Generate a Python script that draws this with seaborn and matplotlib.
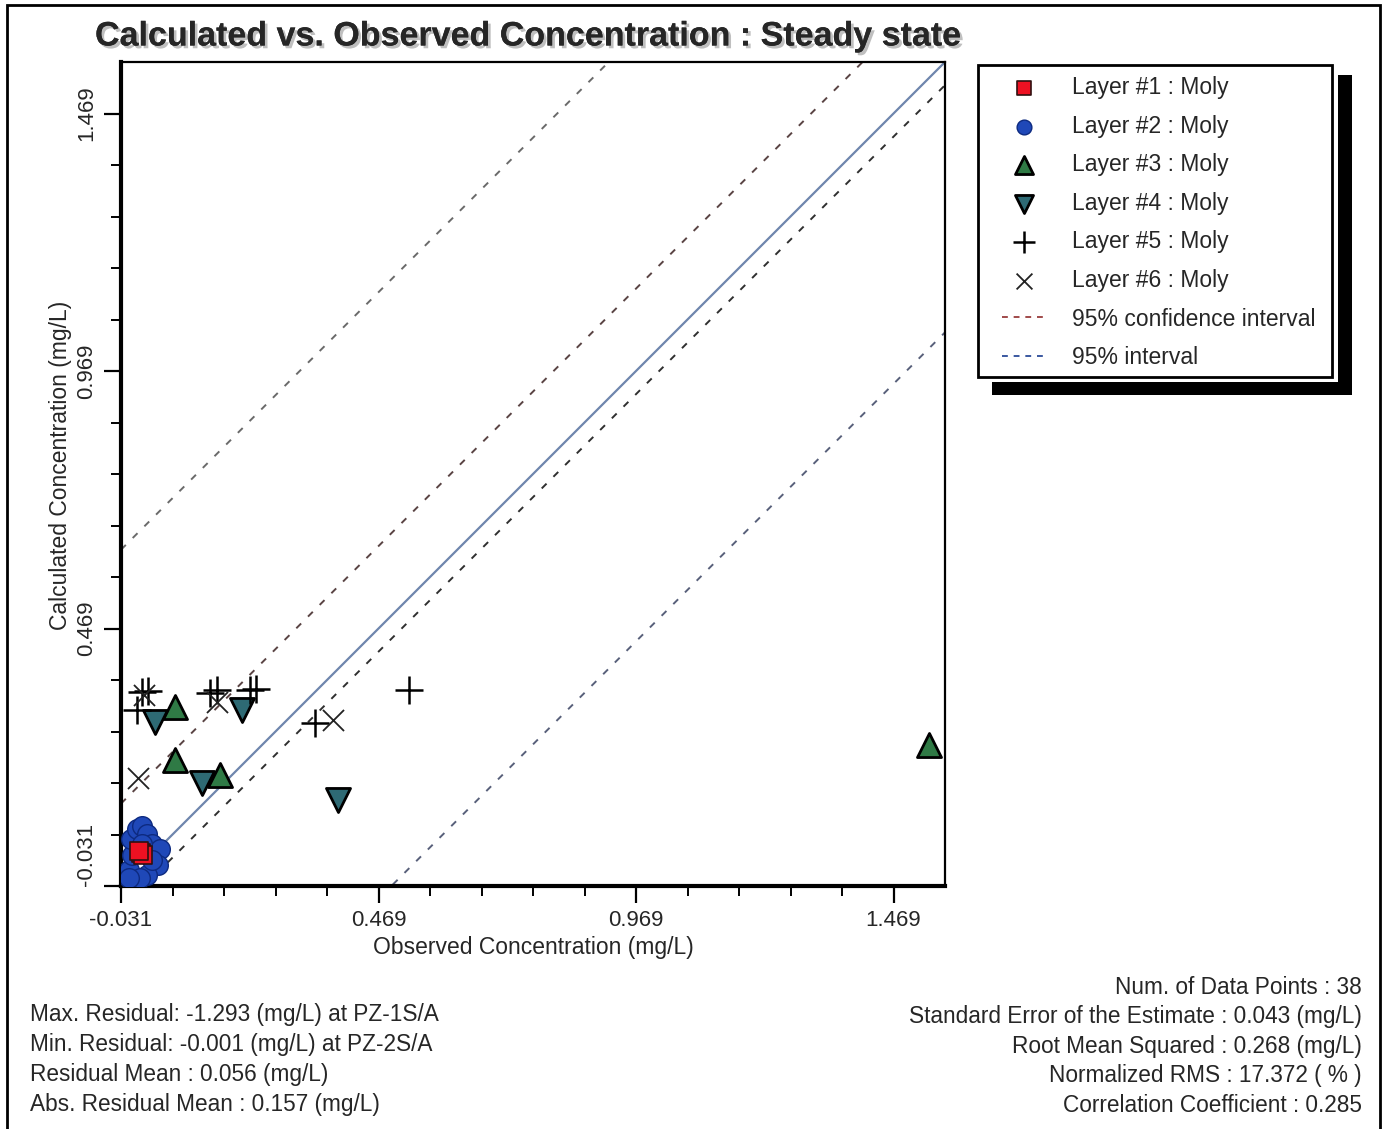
"""
Calculated vs. Observed Concentration scatter (steady state)
Recreated with seaborn / matplotlib
"""

import matplotlib
matplotlib.use("Agg")
import matplotlib.pyplot as plt
import matplotlib.patheffects as pe
from matplotlib.lines import Line2D
from matplotlib.patches import Rectangle
import seaborn as sns
import numpy as np

# ---- data ----
layer1_obs = [0.008, 0.012, 0.004]
layer1_calc = [0.033, 0.030, 0.036]

layer2_obs = [-0.015, -0.010, -0.012, 0.000, 0.010, 0.020, 0.030,
              0.045, 0.040, 0.020, 0.005, -0.015, 0.030, 0.010]
layer2_calc = [0.000, 0.030, 0.060, 0.080, 0.085, 0.070, 0.050,
               0.040, 0.010, -0.010, -0.015, -0.015, 0.020, 0.050]

layer3_obs = [0.074, 0.074, 0.161, 1.537]
layer3_calc = [0.316, 0.213, 0.184, 0.242]

layer4_obs = [0.035, 0.203, 0.126, 0.390]
layer4_calc = [0.287, 0.310, 0.169, 0.136]

layer5_obs = [0.010, 0.022, 0.000, 0.142, 0.155, 0.219, 0.232, 0.345, 0.529]
layer5_calc = [0.345, 0.347, 0.310, 0.343, 0.349, 0.349, 0.352, 0.285, 0.349]

layer6_obs = [0.002, 0.155, 0.380, 0.014]
layer6_calc = [0.178, 0.326, 0.291, 0.340]

# offsets of the reference lines from y = x
ci_offsets = [0.160, -0.045]     # 95% confidence interval
pi_offsets = [0.653, -0.525]     # 95% interval

axis_min, axis_max = -0.031, 1.569
major_ticks = [-0.031, 0.469, 0.969, 1.469]
tick_labels = ["-0.031", "0.469", "0.969", "1.469"]

left_stats = [
    "Max. Residual: -1.293 (mg/L) at PZ-1S/A",
    "Min. Residual: -0.001 (mg/L) at PZ-2S/A",
    "Residual Mean : 0.056 (mg/L)",
    "Abs. Residual Mean : 0.157 (mg/L)",
]
right_stats = [
    "Num. of Data Points : 38",
    "Standard Error of the Estimate : 0.043 (mg/L)",
    "Root Mean Squared : 0.268 (mg/L)",
    "Normalized RMS : 17.372 ( % )",
    "Correlation Coefficient : 0.285",
]

# ---- style ----
sns.set_style("white")
plt.rcParams['font.family'] = ['Liberation Sans', 'DejaVu Sans']

W, H = 1385, 1129
fig = plt.figure(figsize=(W / 100, H / 100), dpi=100)
ax = fig.add_axes([121 / W, 1 - 886 / H, 824 / W, 824 / H])

# reference lines
line_x = np.array([axis_min, axis_max])
dash = (3.5, 5)
ax.plot([0.05, axis_max], [0.05, axis_max], color='#6f86ad', lw=1.6, zorder=2)
ax.plot(line_x, line_x + ci_offsets[0], color='#5a4444', lw=1.4,
        dashes=dash, zorder=2)
ax.plot(line_x, line_x + ci_offsets[1], color='#2f2f2f', lw=1.4,
        dashes=dash, zorder=2)
ax.plot(line_x, line_x + pi_offsets[0], color='#6a6a6a', lw=1.4,
        dashes=dash, zorder=2)
ax.plot(line_x, line_x + pi_offsets[1], color='#58607a', lw=1.4,
        dashes=dash, zorder=2)

# scatter layers
sns.scatterplot(x=layer2_obs, y=layer2_calc, marker='o', s=200,
                color='#1f48b8', edgecolor='#0d2a80', linewidth=1,
                label='Layer #2 : Moly', ax=ax, zorder=4)
sns.scatterplot(x=layer1_obs, y=layer1_calc, marker='s', s=160,
                color='#ee1122', edgecolor='#301010', linewidth=1.2,
                label='Layer #1 : Moly', ax=ax, zorder=5)
sns.scatterplot(x=layer3_obs, y=layer3_calc, marker='^', s=300,
                color='#2f7a45', edgecolor='black', linewidth=2,
                label='Layer #3 : Moly', ax=ax, zorder=4)
sns.scatterplot(x=layer4_obs, y=layer4_calc, marker='v', s=300,
                color='#2e6a74', edgecolor='black', linewidth=2,
                label='Layer #4 : Moly', ax=ax, zorder=4)
sns.scatterplot(x=layer5_obs, y=layer5_calc, marker='+', s=420,
                color='black', linewidth=1.8,
                label='Layer #5 : Moly', ax=ax, zorder=6)
sns.scatterplot(x=layer6_obs, y=layer6_calc, marker='x', s=230,
                color='#222222', linewidth=1.3,
                label='Layer #6 : Moly', ax=ax, zorder=6)

# axes setup
ax.set_xlim(axis_min, axis_max)
ax.set_ylim(axis_min, axis_max)
ax.set_xticks(major_ticks)
ax.set_xticklabels(tick_labels)
ax.set_yticks(major_ticks)
ax.set_yticklabels(tick_labels, rotation=90, va='center')
# the lowest y label sits above its tick, as in the original
ax.get_yticklabels()[0].set_va('bottom')
minor = np.arange(axis_min + 0.1, axis_max, 0.1)
ax.set_xticks(minor, minor=True)
ax.set_yticks(minor, minor=True)
ax.tick_params(which='major', direction='out', length=12, width=1.6,
               labelsize=16, color='black', left=True, bottom=True)
ax.tick_params(which='minor', direction='out', length=7, width=1.4,
               color='black', left=True, bottom=True)
ax.tick_params(axis='x', pad=5)
ax.tick_params(axis='y', pad=5)

for side in ['left', 'bottom']:
    ax.spines[side].set_linewidth(3)
    ax.spines[side].set_color('black')
for side in ['top', 'right']:
    ax.spines[side].set_linewidth(1.6)
    ax.spines[side].set_color('black')

ax.set_xlabel('Observed Concentration (mg/L)', fontsize=16.5, labelpad=4)
ax.set_ylabel('Calculated Concentration (mg/L)', fontsize=16.5)
ax.yaxis.set_label_coords(-0.0595, 0.51)
ax.grid(False)

# legend: black drop shadow, white margin, framed box, then entries
handles, labels = ax.get_legend_handles_labels()
order = [labels.index(f'Layer #{i} : Moly') for i in range(1, 7)]
handles = [handles[i] for i in order]
labels = [labels[i] for i in order]
handles += [Line2D([], [], color='#a04a4a', lw=1.4, dashes=(3, 3)),
            Line2D([], [], color='#3a58a0', lw=1.4, dashes=(3, 3))]
labels += ['95% confidence interval', '95% interval']
ax.get_legend().remove()

fig.patches.append(Rectangle((992 / W, 1 - 395 / H), 360 / W, 320 / H,
                             transform=fig.transFigure, facecolor='black',
                             edgecolor='none', zorder=1))
fig.patches.append(Rectangle((972 / W, 1 - 382 / H), 366 / W, 322 / H,
                             transform=fig.transFigure, facecolor='white',
                             edgecolor='none', zorder=1.5))
fig.patches.append(Rectangle((978 / W, 1 - 377 / H), 354 / W, 312 / H,
                             transform=fig.transFigure, facecolor='white',
                             edgecolor='black', linewidth=2, zorder=2))
leg = fig.legend(handles, labels, loc='upper left',
                 bbox_to_anchor=(1002 / W, 1 - 76 / H), fontsize=16.5,
                 frameon=False, borderpad=0, borderaxespad=0,
                 labelspacing=0.68, handlelength=1.92, handletextpad=1.13,
                 markerscale=0.75)
leg.set_zorder(3)

# title
fig.text(95 / W, 1 - 37 / H,
         'Calculated vs. Observed Concentration : Steady state',
         fontsize=24.5, fontweight='bold', va='center', ha='left',
         path_effects=[pe.withSimplePatchShadow(offset=(2, -2),
                                                shadow_rgbFace='gray',
                                                alpha=0.5), pe.Normal()])

# statistics
for i, txt in enumerate(left_stats):
    fig.text(30 / W, 1 - (1015 + 30 * i) / H, txt, fontsize=16.3,
             ha='left', va='center')
for i, txt in enumerate(right_stats):
    fig.text(1362 / W, 1 - (987 + 29.5 * i) / H, txt, fontsize=16.3,
             ha='right', va='center')

# outer frame
fig.patches.append(Rectangle((7 / W, -0.01), 1373 / W, 1 - 5 / H + 0.01,
                             transform=fig.transFigure, facecolor='none',
                             edgecolor='black', linewidth=2, zorder=0))

plt.savefig('out.png', dpi=100)
